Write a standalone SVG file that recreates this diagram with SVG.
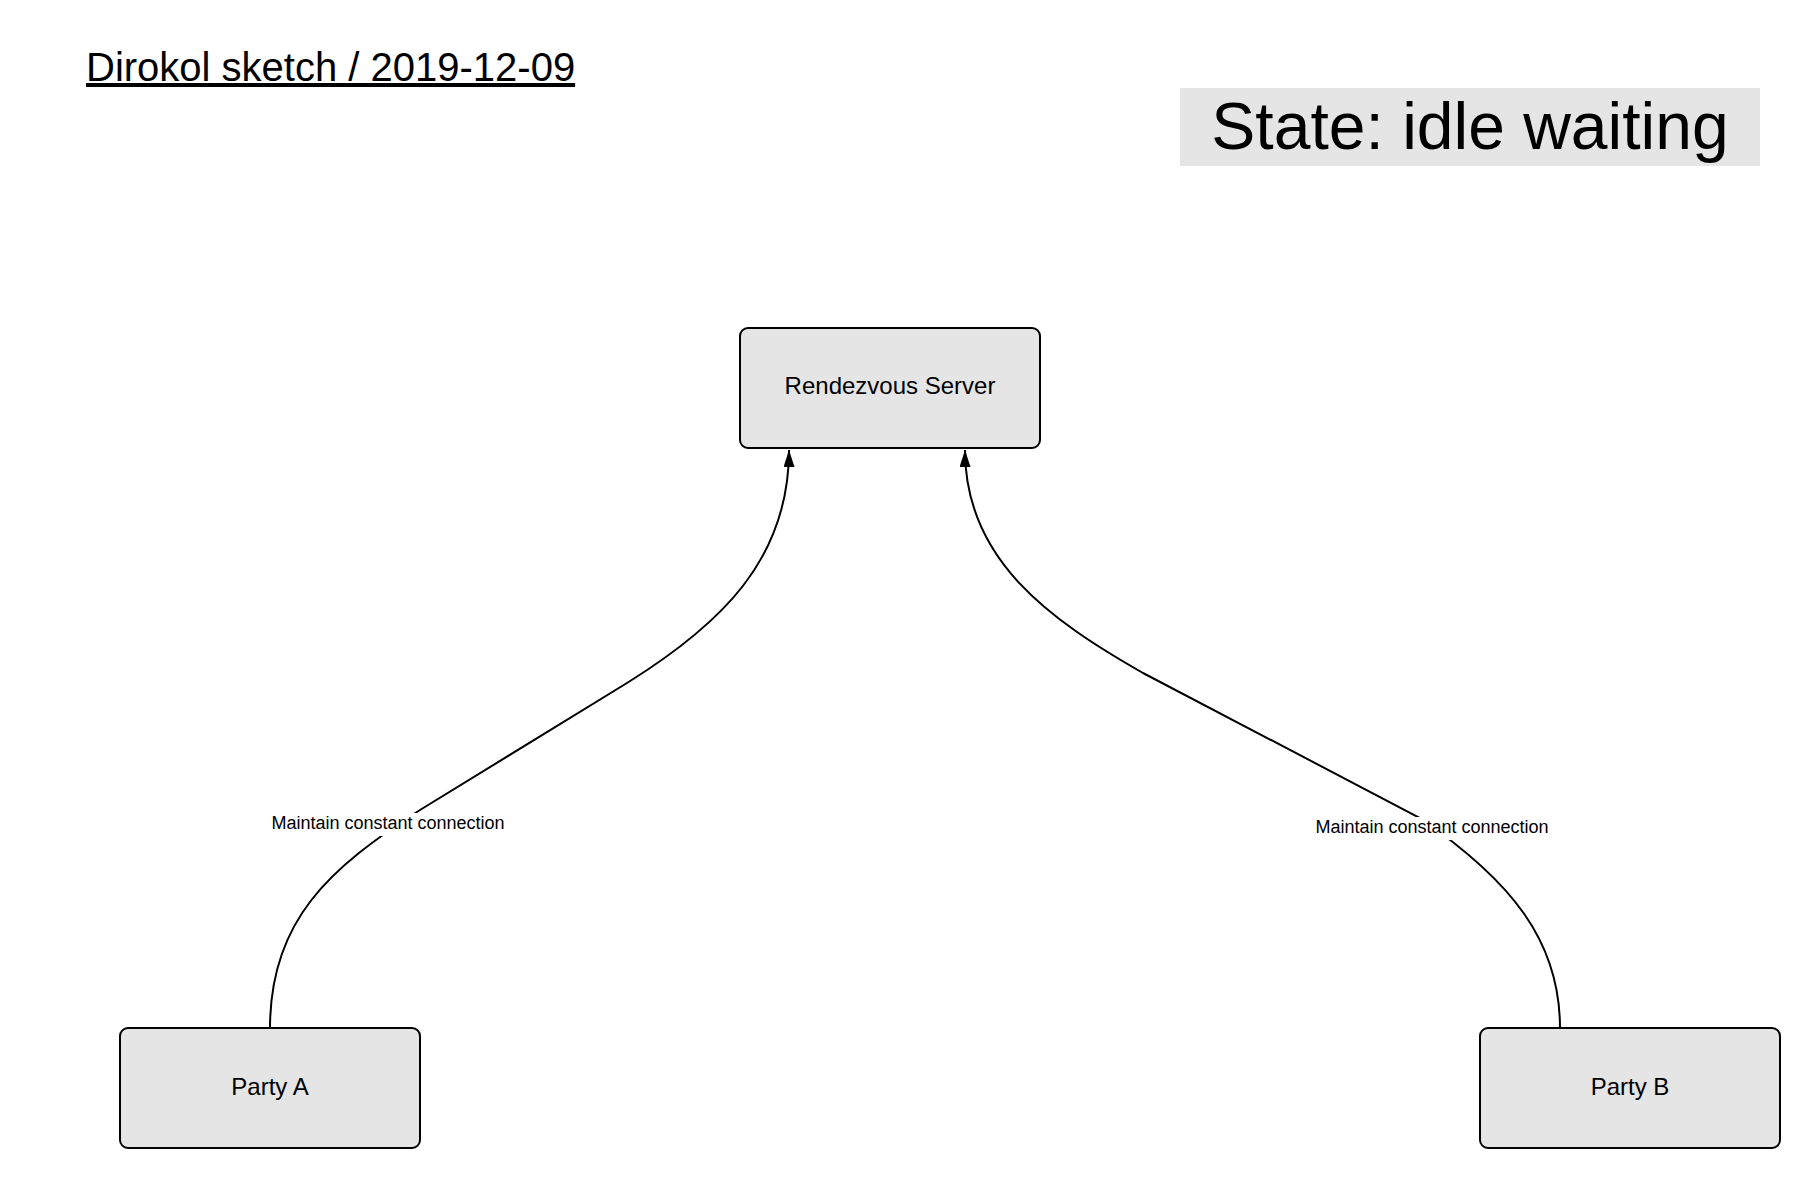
<svg xmlns="http://www.w3.org/2000/svg" width="1820" height="1188" viewBox="0 0 1820 1188">
<style>
  .node rect { fill: #e5e5e5; stroke: #000; stroke-width: 2; }
  .node text { font-family: "Liberation Sans", Arial, sans-serif; font-size: 24px; fill: #000; text-anchor: middle; }
  .conn { fill: none; stroke: #000; stroke-width: 2; }
  .lbl { font-family: "Liberation Sans", Arial, sans-serif; font-size: 18px; fill: #000; text-anchor: middle; }
  .lblbg { fill: #fff; }
</style>
<defs>
  <marker id="arrow" markerWidth="17" markerHeight="11" refX="17" refY="5.5" orient="auto" markerUnits="userSpaceOnUse" viewBox="0 0 17 11">
    <path d="M0,0 L17,5.5 L0,11 Z" fill="#000"/>
  </marker>
</defs>
<rect width="1820" height="1188" fill="#fff"/>

<g id="title">
  <text x="86" y="81" font-family="Liberation Sans, Arial, sans-serif" font-size="40" fill="#000" text-decoration="underline">Dirokol sketch / 2019-12-09</text>
</g>

<g id="state">
  <rect x="1180" y="88" width="580" height="78" fill="#e5e5e5"/>
  <text x="1470" y="149" font-family="Liberation Sans, Arial, sans-serif" font-size="66" fill="#000" text-anchor="middle">State: idle waiting</text>
</g>

<g id="connectors">
  <path class="conn" d="M270,1028 C270,920 330,868 420,810 L627,683 C720,625 789,560 789,450" marker-end="url(#arrow)"/>
  <path class="conn" d="M1560,1028 C1560,940 1510,880 1420,818 L1143,673 C1050,620 965,560 965,450" marker-end="url(#arrow)"/>
  <rect class="lblbg" x="271" y="813" width="234" height="23"/>
  <text class="lbl" x="388" y="829">Maintain constant connection</text>
  <rect class="lblbg" x="1315" y="817" width="234" height="23"/>
  <text class="lbl" x="1432" y="833">Maintain constant connection</text>
</g>

<g id="rendezvous-server" class="node">
  <rect x="740" y="328" width="300" height="120" rx="8" ry="8"/>
  <text x="890" y="394">Rendezvous Server</text>
</g>

<g id="party-a" class="node">
  <rect x="120" y="1028" width="300" height="120" rx="8" ry="8"/>
  <text x="270" y="1095">Party A</text>
</g>

<g id="party-b" class="node">
  <rect x="1480" y="1028" width="300" height="120" rx="8" ry="8"/>
  <text x="1630" y="1095">Party B</text>
</g>
</svg>
